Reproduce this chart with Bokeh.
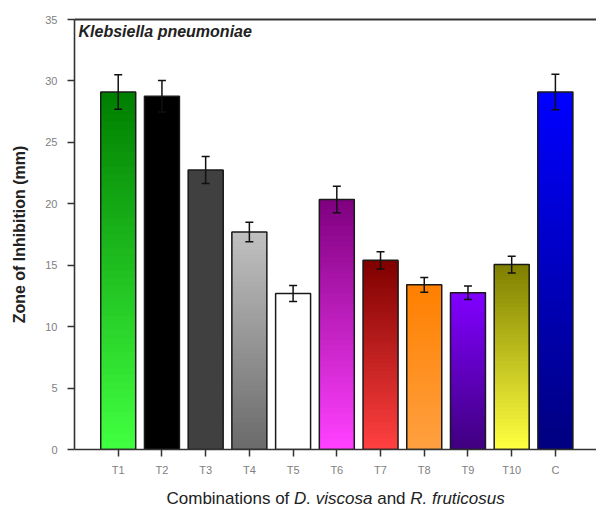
from bokeh.plotting import figure
from bokeh.models import (ColumnDataSource, Whisker, TeeHead, FixedTicker, LinearAxis,
                          Label, Range1d)
from bokeh.layouts import column
from bokeh.embed import file_html
from bokeh.resources import INLINE

# ---------------- data ----------------
categories = ["T1", "T2", "T3", "T4", "T5", "T6", "T7", "T8", "T9", "T10", "C"]
values = [29.1, 28.75, 22.75, 17.7, 12.7, 20.35, 15.4, 13.4, 12.75, 15.05, 29.1]
errors = [1.4, 1.28, 1.1, 0.8, 0.65, 1.08, 0.7, 0.6, 0.55, 0.68, 1.45]
top_colors = ["#008000", "#000000", "#404040", "#C0C0C0", "#FFFFFF", "#800080",
              "#800000", "#FF8000", "#8000FF", "#808000", "#0000FF"]
bottom_colors = ["#40FF40", "#000000", "#404040", "#6B6B6B", "#FFFFFF", "#FF40FF",
                 "#FF4040", "#FFA040", "#400080", "#FFFF40", "#000080"]
y_ticks = [0, 5, 10, 15, 20, 25, 30, 35]
title_text = "Klebsiella pneumoniae"
x_title_pieces = ["Combinations of", "D. viscosa", "and", "R. fruticosus"]
x_title_styles = ["normal", "italic", "normal", "italic"]

FONT = "Liberation Sans"
N = 48  # gradient steps per bar
BAR_W = 0.8

xs = list(range(1, len(categories) + 1))


def hex2rgb(h):
    h = h.lstrip("#")
    return tuple(int(h[i:i + 2], 16) for i in (0, 2, 4))


def mix(c1, c2, t):
    a, b = hex2rgb(c1), hex2rgb(c2)
    return "#%02x%02x%02x" % tuple(round(a[i] + (b[i] - a[i]) * t) for i in range(3))


# gradient: layered rectangles, each from a fraction of the value up to the value
sl_left, sl_right, sl_bottom, sl_top, sl_color = [], [], [], [], []
for x, v, ct, cb in zip(xs, values, top_colors, bottom_colors):
    for k in range(N):
        sl_left.append(x - BAR_W / 2)
        sl_right.append(x + BAR_W / 2)
        sl_bottom.append(v * k / N)
        sl_top.append(v)
        sl_color.append(mix(cb, ct, k / (N - 1)))

slices = ColumnDataSource(dict(left=sl_left, right=sl_right, bottom=sl_bottom,
                               top=sl_top, color=sl_color))
bars = ColumnDataSource(dict(x=xs, top=values,
                             upper=[v + e for v, e in zip(values, errors)],
                             lower=[v - e for v, e in zip(values, errors)]))

p = figure(width=596, height=478, output_backend="svg", toolbar_location=None,
           x_range=Range1d(0, 11.94), y_range=Range1d(0, 35),
           min_border_left=74, min_border_right=0, min_border_top=19,
           min_border_bottom=29)
p.outline_line_color = None
p.xgrid.visible = False
p.ygrid.visible = False
p.background_fill_color = "white"
p.border_fill_color = "white"

p.quad(left="left", right="right", bottom="bottom", top="top", source=slices,
       fill_color="color", line_color=None)
p.vbar(x="x", top="top", width=BAR_W, source=bars, fill_color=None,
       line_color="#1a1a1a", line_width=1.5)

wh = Whisker(source=bars, base="x", upper="upper", lower="lower", level="overlay",
             line_color="#111111", line_width=1.5,
             upper_head=TeeHead(size=8, line_width=1.5, line_color="#111111"),
             lower_head=TeeHead(size=8, line_width=1.5, line_color="#111111"))
p.add_layout(wh)

# axes
AX = "#333333"
for ax in (p.xaxis[0], p.yaxis[0]):
    ax.axis_line_color = AX
    ax.axis_line_width = 1.6
    ax.major_tick_line_color = AX
    ax.major_tick_line_width = 1.5
    ax.major_tick_in = 0
    ax.major_tick_out = 7
    ax.minor_tick_line_color = None
    ax.major_label_text_font = FONT
    ax.major_label_text_font_size = "11px"
    ax.major_label_text_color = "#808080"

p.xaxis.ticker = FixedTicker(ticks=xs)
p.xaxis.major_label_overrides = {x: c for x, c in zip(xs, categories)}
p.xaxis.major_label_standoff = 7

p.yaxis.ticker = FixedTicker(ticks=y_ticks)
p.yaxis.major_tick_out = 7
p.yaxis.major_label_standoff = 10
p.yaxis.axis_label = "Zone of Inhibition (mm)"
p.yaxis.axis_label_text_font = FONT
p.yaxis.axis_label_text_font_size = "16px"
p.yaxis.axis_label_text_font_style = "bold"
p.yaxis.axis_label_text_color = "#222222"
p.yaxis.axis_label_standoff = 14

top_ax = LinearAxis(major_tick_line_color=None, minor_tick_line_color=None,
                    major_label_text_font_size="0px", axis_line_color=AX,
                    axis_line_width=2, major_label_standoff=0)
top_ax.ticker = FixedTicker(ticks=[])
p.add_layout(top_ax, "above")

# title inside frame
p.add_layout(Label(x=0, y=35, x_offset=4, y_offset=-3, text=title_text,
                   text_font=FONT, text_font_size="16px", text_font_style="bold italic",
                   text_color="#222222", text_baseline="top", text_align="left"))

# x axis title strip (normal + italic pieces) in its own small figure;
# its frame is aligned with the main frame (starts 74 px from the left)
p2 = figure(width=596, height=30, output_backend="svg", toolbar_location=None,
            x_range=Range1d(0, 522), y_range=Range1d(0, 30),
            x_axis_type=None, y_axis_type=None, min_border=0)
p2.outline_line_color = None
p2.xgrid.visible = False
p2.ygrid.visible = False
p2.border_fill_color = "white"

offsets = [0.0, 127.6, 210.7, 243.8]   # px offsets of each piece from the start
start = 166 - 74
for txt, style, off in zip(x_title_pieces, x_title_styles, offsets):
    p2.add_layout(Label(x=0, y=0, x_offset=start + off, y_offset=10,
                        text=txt, text_font=FONT, text_font_size="17px",
                        text_font_style=style, text_color="#222222",
                        text_baseline="middle", text_align="left"))

layout = column(p, p2, spacing=0)
open("out.html", "w").write(file_html(layout, INLINE))
